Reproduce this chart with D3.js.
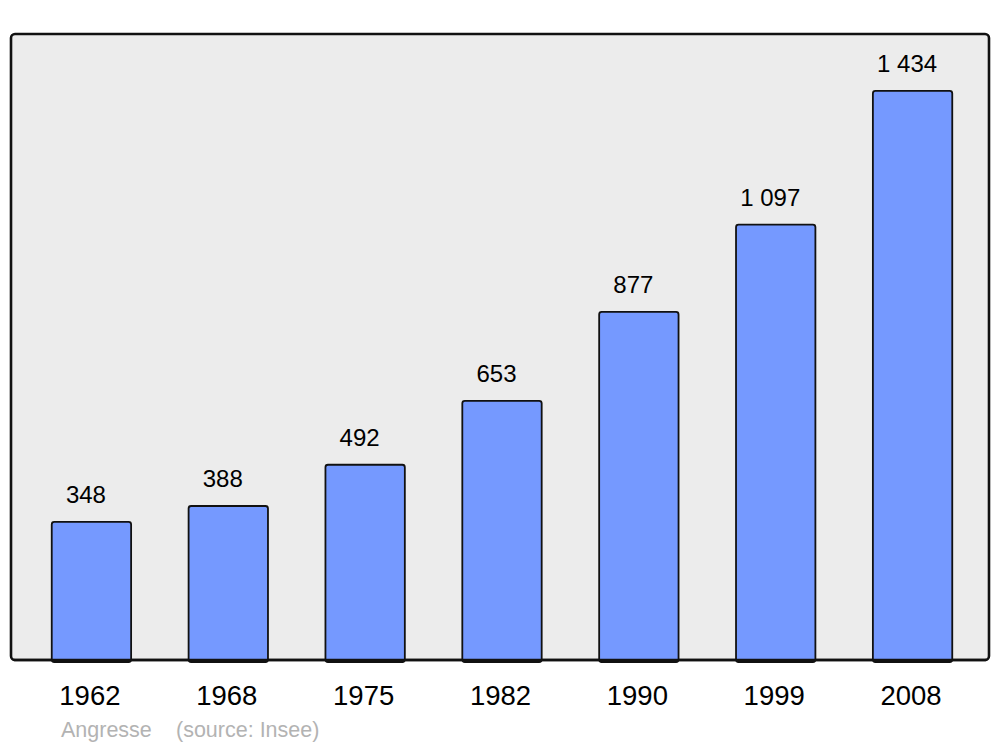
<!DOCTYPE html>
<html><head><meta charset="utf-8">
<script src="https://cdn.jsdelivr.net/npm/d3@7"></script>
<style>body{margin:0;background:#fff}svg{display:block}</style>
</head><body>
<script>
const years = ["1962","1968","1975","1982","1990","1999","2008"];
const population = [348, 388, 492, 653, 877, 1097, 1434];
const commune = "Angresse";
const source = "(source: Insee)";

const W = 1000, H = 747;
const panel = {x0: 11, y0: 34, x1: 989, y1: 660};
const svg = d3.select("body").append("svg").attr("width", W).attr("height", H);

svg.append("rect")
  .attr("x", panel.x0).attr("y", panel.y0)
  .attr("width", panel.x1 - panel.x0).attr("height", panel.y1 - panel.y0)
  .attr("rx", 4).attr("ry", 4)
  .attr("fill", "#ececec").attr("stroke", "#111").attr("stroke-width", 2.6);

const x = d3.scaleBand().domain(years).range([23, 981]).paddingInner(0.42).paddingOuter(0.21);
const y = d3.scaleLinear().domain([0, d3.max(population) * 1.1]).range([panel.y1, panel.y0]);
const fmt = d3.formatLocale({decimal: ",", thousands: " ", grouping: [3], currency: ["", ""]}).format(",d");

const data = years.map((yr, i) => ({yr, v: population[i]}));

svg.selectAll("rect.bar").data(data).enter().append("rect")
  .attr("class", "bar")
  .attr("x", d => x(d.yr)).attr("width", x.bandwidth())
  .attr("y", d => y(d.v)).attr("height", d => y(0) - y(d.v) + 2)
  .attr("rx", 2.5).attr("ry", 2.5)
  .attr("fill", "#7599ff").attr("stroke", "#111").attr("stroke-width", 1.8);

svg.append("line").attr("x1", panel.x0 + 3).attr("x2", panel.x1 - 3)
  .attr("y1", panel.y1).attr("y2", panel.y1)
  .attr("stroke", "#111").attr("stroke-width", 2.6);

svg.selectAll("text.val").data(data).enter().append("text")
  .attr("class", "val")
  .attr("x", d => x(d.yr) + x.bandwidth() / 2 - 5.5)
  .attr("y", d => y(d.v) - 19)
  .attr("text-anchor", "middle")
  .attr("font-family", "Liberation Sans, Arial, sans-serif")
  .attr("font-size", 24).attr("fill", "#000")
  .text(d => fmt(d.v));

svg.selectAll("text.yr").data(data).enter().append("text")
  .attr("class", "yr")
  .attr("x", d => x(d.yr) + x.bandwidth() / 2 - 1.5)
  .attr("y", 705)
  .attr("text-anchor", "middle")
  .attr("font-family", "Liberation Sans, Arial, sans-serif")
  .attr("font-size", 27.5).attr("fill", "#000")
  .text(d => d.yr);

svg.append("text").attr("x", 61).attr("y", 737)
  .attr("font-family", "Liberation Sans, Arial, sans-serif")
  .attr("font-size", 21.5).attr("fill", "#b3b3b3").text(commune);
svg.append("text").attr("x", 176).attr("y", 737)
  .attr("font-family", "Liberation Sans, Arial, sans-serif")
  .attr("font-size", 21.5).attr("fill", "#b3b3b3").text(source);
</script>
</body></html>
